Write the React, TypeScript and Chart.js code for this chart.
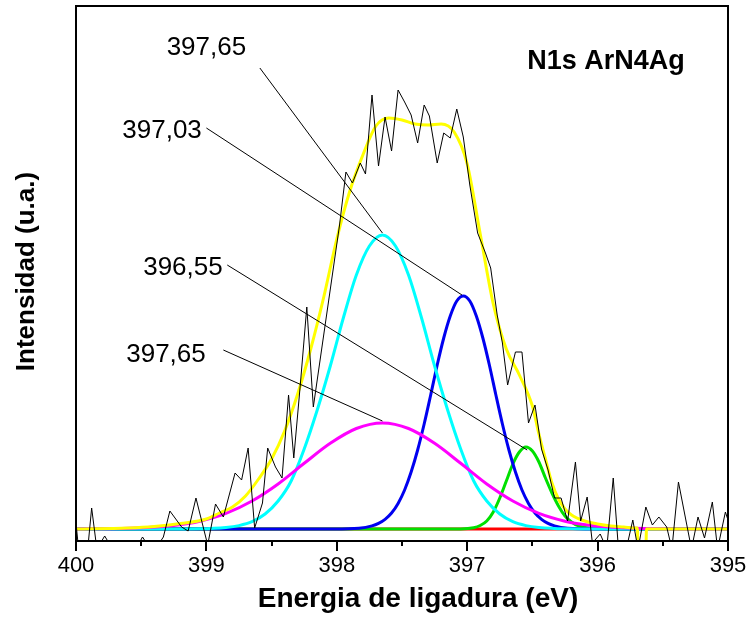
import React, { useEffect, useRef } from 'react';
import { Chart, registerables } from 'chart.js';

Chart.register(...registerables);

// ---------- measured spectrum (binding energy in eV, intensity in a.u.) ----------
const rawEnergy = [
  400.00, 399.98, 399.91, 399.88, 399.84, 399.78, 399.72, 399.63, 399.54, 399.49,
  399.43, 399.39, 399.33, 399.28, 399.19, 399.14, 399.08, 398.99, 398.93, 398.87,
  398.78, 398.73, 398.68, 398.63, 398.57, 398.53, 398.47, 398.42, 398.37, 398.33,
  398.28, 398.23, 398.18, 397.98, 397.93, 397.88, 397.82, 397.78, 397.73, 397.68,
  397.63, 397.58, 397.53, 397.48, 397.43, 397.38, 397.33, 397.29, 397.23, 397.18,
  397.13, 397.08, 397.03, 396.98, 396.92, 396.86, 396.82, 396.77, 396.73, 396.69,
  396.63, 396.58, 396.53, 396.48, 396.43, 396.38, 396.33, 396.28, 396.23, 396.17,
  396.13, 396.08, 396.04, 395.98, 395.93, 395.88, 395.84, 395.78, 395.73, 395.69,
  395.63, 395.58, 395.53, 395.47, 395.43, 395.38, 395.28, 395.23, 395.18, 395.12,
  395.08, 395.02, 395.00,
];
const rawIntensity = [
  6, -20, -20, 21, -20, -7, -20, -20, -20, -8,
  -20, -20, -8, 18, 2, -2, 31, -16, 25, 12,
  56, 49, 81, 1, 26, 81, 62, 51, 134, 71,
  144, 222, 122, 303, 357, 346, 366, 355, 434, 363,
  412, 378, 439, 427, 414, 386, 424, 413, 366, 396,
  391, 420, 392, 344, 296, 276, 261, 214, 186, 144,
  177, 177, 106, 124, 80, 59, 31, 31, 8, 67,
  8, 32, -14, -5, -20, 51, -20, -20, 9, -20,
  22, 4, 12, 2, -20, 47, -20, 12, -9, 27,
  -20, 17, 9,
];

// ---------- fitted envelope (yellow) ----------
const envelopeEnergy = [
  400, 399.6, 399.4, 399.2, 399.0, 398.9, 398.8, 398.7, 398.6, 398.5,
  398.4, 398.3, 398.2, 398.1, 398.0, 397.9, 397.8, 397.7, 397.6, 397.5,
  397.4, 397.3, 397.2, 397.1, 397.0, 396.9, 396.8, 396.7, 396.6, 396.5,
  396.45, 396.4, 396.35, 396.3, 396.25, 396.2, 396.1, 396.0, 395.9, 395.8,
  395.7, 395.695, 395.69, 395.63, 395.625, 395.0,
];
const envelopeIntensity = [
  0, 1, 2.5, 5.5, 10, 16, 22, 33, 50, 70,
  98, 135, 180, 232, 290, 338, 374, 403, 411, 409,
  405, 404, 405, 397, 365, 295, 225, 180, 154, 123,
  95, 70, 46, 30, 20, 14, 8, 5, 3, 2,
  1, 1, -20, -20, 0, 0,
];

// ---------- component peaks ----------
const cyanEnergy = [
  400, 399.65, 399.35, 399.05, 398.85, 398.75, 398.65, 398.55, 398.45, 398.35,
  398.25, 398.15, 398.05, 397.95, 397.85, 397.75, 397.65, 397.55, 397.45, 397.35,
  397.25, 397.15, 397.05, 396.95, 396.85, 396.75, 396.65, 396.55, 396.45, 396.25,
  395.95, 395.65, 395,
];
const cyanIntensity = [
  0, 0, 0, 0.2, 1.5, 3.4, 7.3, 15, 28, 48,
  80, 119, 163, 211, 254, 283, 294, 283, 254, 211,
  163, 119, 80, 48, 28, 15, 7.3, 3.4, 1.5, 0.2,
  0, 0, 0,
];

const magentaEnergy = [
  400, 399.65, 399.45, 399.25, 399.05, 398.85, 398.65, 398.45, 398.25, 398.05,
  397.85, 397.65, 397.45, 397.25, 397.05, 396.85, 396.65, 396.45, 396.25, 396.05,
  395.85, 395.65, 395.3, 395,
];
const magentaIntensity = [
  0.1, 0.5, 1.4, 3.5, 7.8, 15.6, 28, 45, 65.7, 85.7,
  100.5, 106, 100.5, 85.7, 65.7, 45, 28, 15.6, 7.8, 3.5,
  1.4, 0.5, 0.05, 0,
];

const blueEnergy = [
  400, 398.5, 398.03, 397.83, 397.73, 397.68, 397.63, 397.58, 397.53, 397.48,
  397.43, 397.38, 397.33, 397.28, 397.23, 397.18, 397.13, 397.08, 397.03, 396.98,
  396.93, 396.88, 396.83, 396.78, 396.73, 396.68, 396.63, 396.58, 396.53, 396.48,
  396.43, 396.38, 396.33, 396.23, 396.03, 395,
];
const blueIntensity = [
  0, 0, 0.05, 0.8, 3.1, 5.6, 9.7, 16, 25.6, 39,
  57, 79, 105, 134, 164, 191, 213, 228, 233, 228,
  213, 191, 164, 134, 105, 79, 57, 39, 25.6, 16,
  9.7, 5.6, 3.1, 0.8, 0.05, 0,
];

const greenEnergy = [
  400, 397.2, 397.05, 396.95, 396.9, 396.85, 396.8, 396.75, 396.7, 396.65,
  396.6, 396.55, 396.5, 396.45, 396.4, 396.35, 396.3, 396.25, 396.2, 396.15,
  396.05, 395.95, 395.8, 395,
];
const greenIntensity = [
  0, 0, 0.1, 1.3, 3.5, 8, 17, 31, 48, 65,
  77, 82, 78, 67, 51, 36, 23, 13, 7, 3.3,
  0.6, 0.1, 0, 0,
];

const baselineEnergy = [400, 395];
const baselineIntensity = [0, 0];

// ---------- axes ----------
const xMin = 395;
const xMax = 400;
const yMin = -12;
const yMax = 523;
const majorTicks = [400, 399, 398, 397, 396, 395];
const minorTicks = [399.5, 398.5, 397.5, 396.5, 395.5];
const tickLabels = ['400', '399', '398', '397', '396', '395'];
const xTitle = 'Energia de ligadura (eV)';
const yTitle = 'Intensidad (u.a.)';
const panelTitle = 'N1s ArN4Ag';
const panelTitleEnergy = 396.54;
const panelTitleIntensity = 460;

// ---------- peak annotations ----------
const peakLabels = ['397,65', '397,03', '396,55', '397,65'];
const peakLabelEnergy = [399.0, 399.34, 399.18, 399.31];
const peakLabelIntensity = [474, 391, 254, 167];
const leaderStartEnergy = [398.59, 399.0, 398.84, 398.87];
const leaderStartIntensity = [461, 401, 264, 179];
const leaderEndEnergy = [397.65, 397.04, 396.54, 397.65];
const leaderEndIntensity = [296, 234, 79, 108];

const FONT = '"Liberation Sans", Arial, Helvetica, sans-serif';

const pts = (xs: number[], ys: number[]) => xs.map((x, i) => ({ x, y: ys[i] }));

const decorPlugin = {
  id: 'decor',
  afterDatasetsDraw(chart: any) {
    const { ctx, scales } = chart;
    const sx = scales.x;
    const sy = scales.y;
    ctx.save();
    ctx.strokeStyle = '#000';
    ctx.lineWidth = 1;
    for (let i = 0; i < peakLabels.length; i++) {
      ctx.beginPath();
      ctx.moveTo(sx.getPixelForValue(leaderStartEnergy[i]), sy.getPixelForValue(leaderStartIntensity[i]));
      ctx.lineTo(sx.getPixelForValue(leaderEndEnergy[i]), sy.getPixelForValue(leaderEndIntensity[i]));
      ctx.stroke();
    }
    ctx.fillStyle = '#000';
    ctx.font = `26px ${FONT}`;
    ctx.textAlign = 'center';
    ctx.textBaseline = 'alphabetic';
    for (let i = 0; i < peakLabels.length; i++) {
      ctx.fillText(peakLabels[i], sx.getPixelForValue(peakLabelEnergy[i]), sy.getPixelForValue(peakLabelIntensity[i]));
    }
    ctx.font = `bold 27px ${FONT}`;
    ctx.textAlign = 'left';
    ctx.fillText(panelTitle, sx.getPixelForValue(panelTitleEnergy), sy.getPixelForValue(panelTitleIntensity));
    ctx.restore();
  },
  afterDraw(chart: any) {
    const { ctx, chartArea: a, scales } = chart;
    const sx = scales.x;
    ctx.save();
    ctx.strokeStyle = '#000';
    ctx.lineWidth = 2;
    ctx.strokeRect(a.left, a.top, a.right - a.left, a.bottom - a.top);
    ctx.beginPath();
    majorTicks.forEach((v) => {
      const p = Math.round(sx.getPixelForValue(v));
      ctx.moveTo(p, a.bottom);
      ctx.lineTo(p, a.bottom + 10);
    });
    minorTicks.forEach((v) => {
      const p = Math.round(sx.getPixelForValue(v));
      ctx.moveTo(p, a.bottom);
      ctx.lineTo(p, a.bottom + 5);
    });
    ctx.stroke();

    ctx.fillStyle = '#000';
    ctx.font = `22px ${FONT}`;
    ctx.textAlign = 'center';
    ctx.textBaseline = 'alphabetic';
    majorTicks.forEach((v, i) => {
      ctx.fillText(tickLabels[i], sx.getPixelForValue(v), a.bottom + 31);
    });

    ctx.font = `bold 28px ${FONT}`;
    ctx.fillText(xTitle, (a.left + a.right) / 2 + 16, a.bottom + 66);

    ctx.font = `bold 26px ${FONT}`;
    ctx.translate(34, (a.top + a.bottom) / 2 - 2);
    ctx.rotate(-Math.PI / 2);
    ctx.fillText(yTitle, 0, 0);
    ctx.restore();
  },
};

export default function App() {
  const ref = useRef<HTMLCanvasElement | null>(null);

  useEffect(() => {
    if (!ref.current) return;
    const fit = {
      borderWidth: 3,
      pointRadius: 0,
      cubicInterpolationMode: 'monotone' as const,
      fill: false,
    };
    const chart = new Chart(ref.current, {
      type: 'line',
      data: {
        datasets: [
          { ...fit, label: 'Baseline', data: pts(baselineEnergy, baselineIntensity), borderColor: '#FF0000', order: 6 },
          { ...fit, label: '396,55', data: pts(greenEnergy, greenIntensity), borderColor: '#00E000', order: 5 },
          { ...fit, label: '397,03', data: pts(blueEnergy, blueIntensity), borderColor: '#0000F0', order: 4 },
          { ...fit, label: '397,65 a', data: pts(cyanEnergy, cyanIntensity), borderColor: '#00FFFF', order: 3 },
          { ...fit, label: '397,65 b', data: pts(magentaEnergy, magentaIntensity), borderColor: '#FF00FF', order: 2 },
          { ...fit, label: 'Envelope', data: pts(envelopeEnergy, envelopeIntensity), borderColor: '#FFFF00', order: 1 },
          {
            label: 'N1s',
            data: pts(rawEnergy, rawIntensity),
            borderColor: '#000000',
            borderWidth: 1,
            pointRadius: 0,
            tension: 0,
            fill: false,
            order: 0,
          },
        ],
      },
      options: {
        responsive: false,
        animation: false,
        events: [],
        layout: { padding: { top: 6, right: 20, left: 0, bottom: 0 } },
        plugins: {
          legend: { display: false },
          tooltip: { enabled: false },
          title: { display: false },
        },
        scales: {
          x: {
            type: 'linear',
            reverse: true,
            min: xMin,
            max: xMax,
            grid: { display: false },
            border: { display: false },
            ticks: { display: false },
            afterFit: (s: any) => { s.height = 86; },
          },
          y: {
            type: 'linear',
            min: yMin,
            max: yMax,
            grid: { display: false },
            border: { display: false },
            ticks: { display: false },
            afterFit: (s: any) => { s.width = 76; },
          },
        },
      },
      plugins: [decorPlugin],
    });
    return () => chart.destroy();
  }, []);

  return (
    <div style={{ position: 'absolute', left: 0, top: 0, width: 748, height: 627, background: '#fff' }}>
      <canvas ref={ref} width={748} height={627} style={{ display: 'block' }} />
    </div>
  );
}
